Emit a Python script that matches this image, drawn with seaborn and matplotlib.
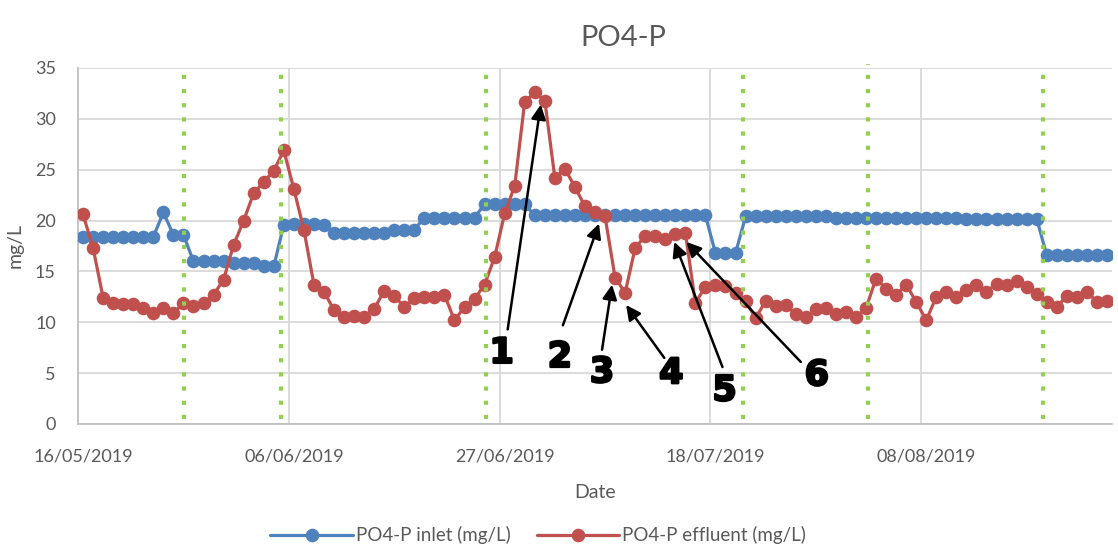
import numpy as np
import pandas as pd
import matplotlib
matplotlib.use('Agg')
import matplotlib.pyplot as plt
import matplotlib.patheffects as pe
import seaborn as sns

# 1. Data (one sample per day, starting 16/05/2019)
inlet = [18.4, 18.4, 18.4, 18.4, 18.4, 18.4, 18.4, 18.4, 20.8, 18.6,
         18.6, 16.0, 16.0, 16.0, 16.0, 15.8, 15.8, 15.8, 15.5, 15.5,
         19.6, 19.7, 19.7, 19.7, 19.6, 18.8, 18.8, 18.8, 18.8, 18.8,
         18.8, 19.1, 19.1, 19.1, 20.3, 20.3, 20.3, 20.3, 20.3, 20.3,
         21.6, 21.6, 21.6, 21.6, 21.6, 20.5, 20.5, 20.5, 20.5, 20.5,
         20.5, 20.5, 20.5, 20.5, 20.5, 20.5, 20.5, 20.5, 20.5, 20.5,
         20.5, 20.5, 20.5, 16.8, 16.8, 16.8, 20.4, 20.4, 20.4, 20.4,
         20.4, 20.4, 20.4, 20.4, 20.4, 20.3, 20.3, 20.3, 20.3, 20.3,
         20.3, 20.3, 20.3, 20.3, 20.3, 20.3, 20.3, 20.3, 20.2, 20.2,
         20.2, 20.2, 20.2, 20.2, 20.2, 20.2, 16.6, 16.6, 16.6, 16.6,
         16.6, 16.6, 16.6]
effluent = [20.6, 17.3, 12.4, 11.9, 11.8, 11.8, 11.4, 10.9, 11.4, 10.9,
            11.9, 11.6, 11.9, 12.7, 14.2, 17.6, 20.0, 22.7, 23.8, 24.9,
            26.9, 23.1, 19.1, 13.7, 13.0, 11.2, 10.5, 10.6, 10.5, 11.3,
            13.1, 12.6, 11.5, 12.4, 12.5, 12.5, 12.7, 10.2, 11.5, 12.3,
            13.7, 16.4, 20.7, 23.4, 31.7, 32.6, 31.8, 24.2, 25.1, 23.3,
            21.4, 20.8, 20.4, 14.4, 12.9, 17.3, 18.5, 18.5, 18.2, 18.7,
            18.8, 11.9, 13.5, 13.7, 13.6, 12.9, 12.1, 10.4, 12.1, 11.6,
            11.7, 10.8, 10.5, 11.3, 11.4, 10.8, 11.0, 10.5, 11.4, 14.3,
            13.3, 12.7, 13.7, 12.0, 10.2, 12.5, 13.0, 12.5, 13.2, 13.7,
            13.0, 13.8, 13.7, 14.1, 13.5, 12.8, 12.0, 11.5, 12.6, 12.5,
            13.0, 12.0, 12.1]
tick_days = [0, 21, 42, 63, 84]
tick_labels = ['16/05/2019', '06/06/2019', '27/06/2019', '18/07/2019', '08/08/2019']
phase_days = [10.1, 19.75, 40.15, 65.75, 78.2, 95.65]   # green dotted markers

# numbered arrows: label position, arrow tail, arrow tip (day, mg/L)
note_labels = ['1', '2', '3', '4', '5', '6']
note_pos = [(41.7, 7.0), (47.5, 6.6), (51.7, 5.1), (58.6, 5.0), (63.9, 3.3), (73.1, 4.8)]
note_tail = [(42.3, 9.3), (47.8, 9.7), (51.7, 7.3), (57.9, 6.5), (63.7, 5.6), (71.5, 6.1)]
note_tip = [(45.6, 31.4), (51.4, 19.7), (52.7, 13.7), (54.1, 11.7), (58.9, 17.9), (60.1, 17.9)]

df = pd.DataFrame({'day': np.arange(len(inlet)), 'inlet': inlet, 'effluent': effluent})

# 2. Style
sns.set_style('white')
plt.rcParams['font.family'] = ['Lato', 'DejaVu Sans']
grey_txt = '#595959'

fig = plt.figure(figsize=(11.18, 5.51), dpi=100)
ax = fig.add_axes([0.0698, 0.2305, 0.9248, 0.6461])

sns.lineplot(data=df, x='day', y='inlet', ax=ax, color='#4F81BD', lw=2.3,
             marker='o', markersize=9.8, markeredgewidth=0,
             label='PO4-P inlet (mg/L)', zorder=3)
sns.lineplot(data=df, x='day', y='effluent', ax=ax, color='#C0504D', lw=2.3,
             marker='o', markersize=9.8, markeredgewidth=0,
             label='PO4-P effluent (mg/L)', zorder=4)

for d in phase_days:
    top = 35.4 if 75 < d < 80 else 34.5
    ax.plot([d, d], [0.5, top], color='#92D050', lw=3.0,
            linestyle=(0, (1, 2.4)), dash_capstyle='butt', zorder=5, clip_on=False)

# 3. Axes
ax.set_xlim(-0.5, len(inlet) - 0.5)
ax.set_ylim(0, 35)
ax.set_yticks(range(0, 36, 5))
ax.set_xticks(tick_days)
ax.set_xticklabels(tick_labels)
ax.set_xticks([d - 0.5 for d in tick_days[1:]], minor=True)
ax.grid(axis='y', which='major', color='#D9D9D9', lw=1.3)
ax.grid(axis='x', which='minor', color='#D9D9D9', lw=1.3)
ax.grid(axis='x', which='major', visible=False)
ax.set_axisbelow(True)
for s in ['top', 'right']:
    ax.spines[s].set_visible(False)
for s in ['left', 'bottom']:
    ax.spines[s].set_color('#BFBFBF')
    ax.spines[s].set_linewidth(1.3)
ax.tick_params(axis='both', which='both', length=0, labelsize=13, colors=grey_txt)
ax.tick_params(axis='x', pad=18)
ax.tick_params(axis='y', pad=16)
ax.set_xlabel('Date', fontsize=14, color=grey_txt, labelpad=14)
ax.set_ylabel('mg/L', fontsize=14, color=grey_txt, labelpad=8)
ax.set_title('PO4-P', fontsize=21, color=grey_txt, pad=16, x=0.527)

# 4. Numbered arrows
for lab, p, t, h in zip(note_labels, note_pos, note_tail, note_tip):
    ax.annotate('', xy=h, xytext=t,
                arrowprops=dict(arrowstyle='-|>', color='black', lw=1.8,
                                mutation_scale=22, shrinkA=0, shrinkB=0),
                zorder=6)
    ax.text(p[0], p[1], lab, ha='center', va='center', fontsize=25,
            fontweight='bold', color='black',
            family=['Liberation Sans Narrow', 'DejaVu Sans'],
            path_effects=[pe.withStroke(linewidth=1.8, foreground='black')],
            zorder=6)

leg = ax.legend(loc='upper center', bbox_to_anchor=(0.445, -0.24), ncol=2,
                frameon=False, fontsize=13.5, handlelength=4.4, columnspacing=1.4,
                handletextpad=0.15)
for t in leg.get_texts():
    t.set_color(grey_txt)

fig.savefig('out.png', dpi=100)
